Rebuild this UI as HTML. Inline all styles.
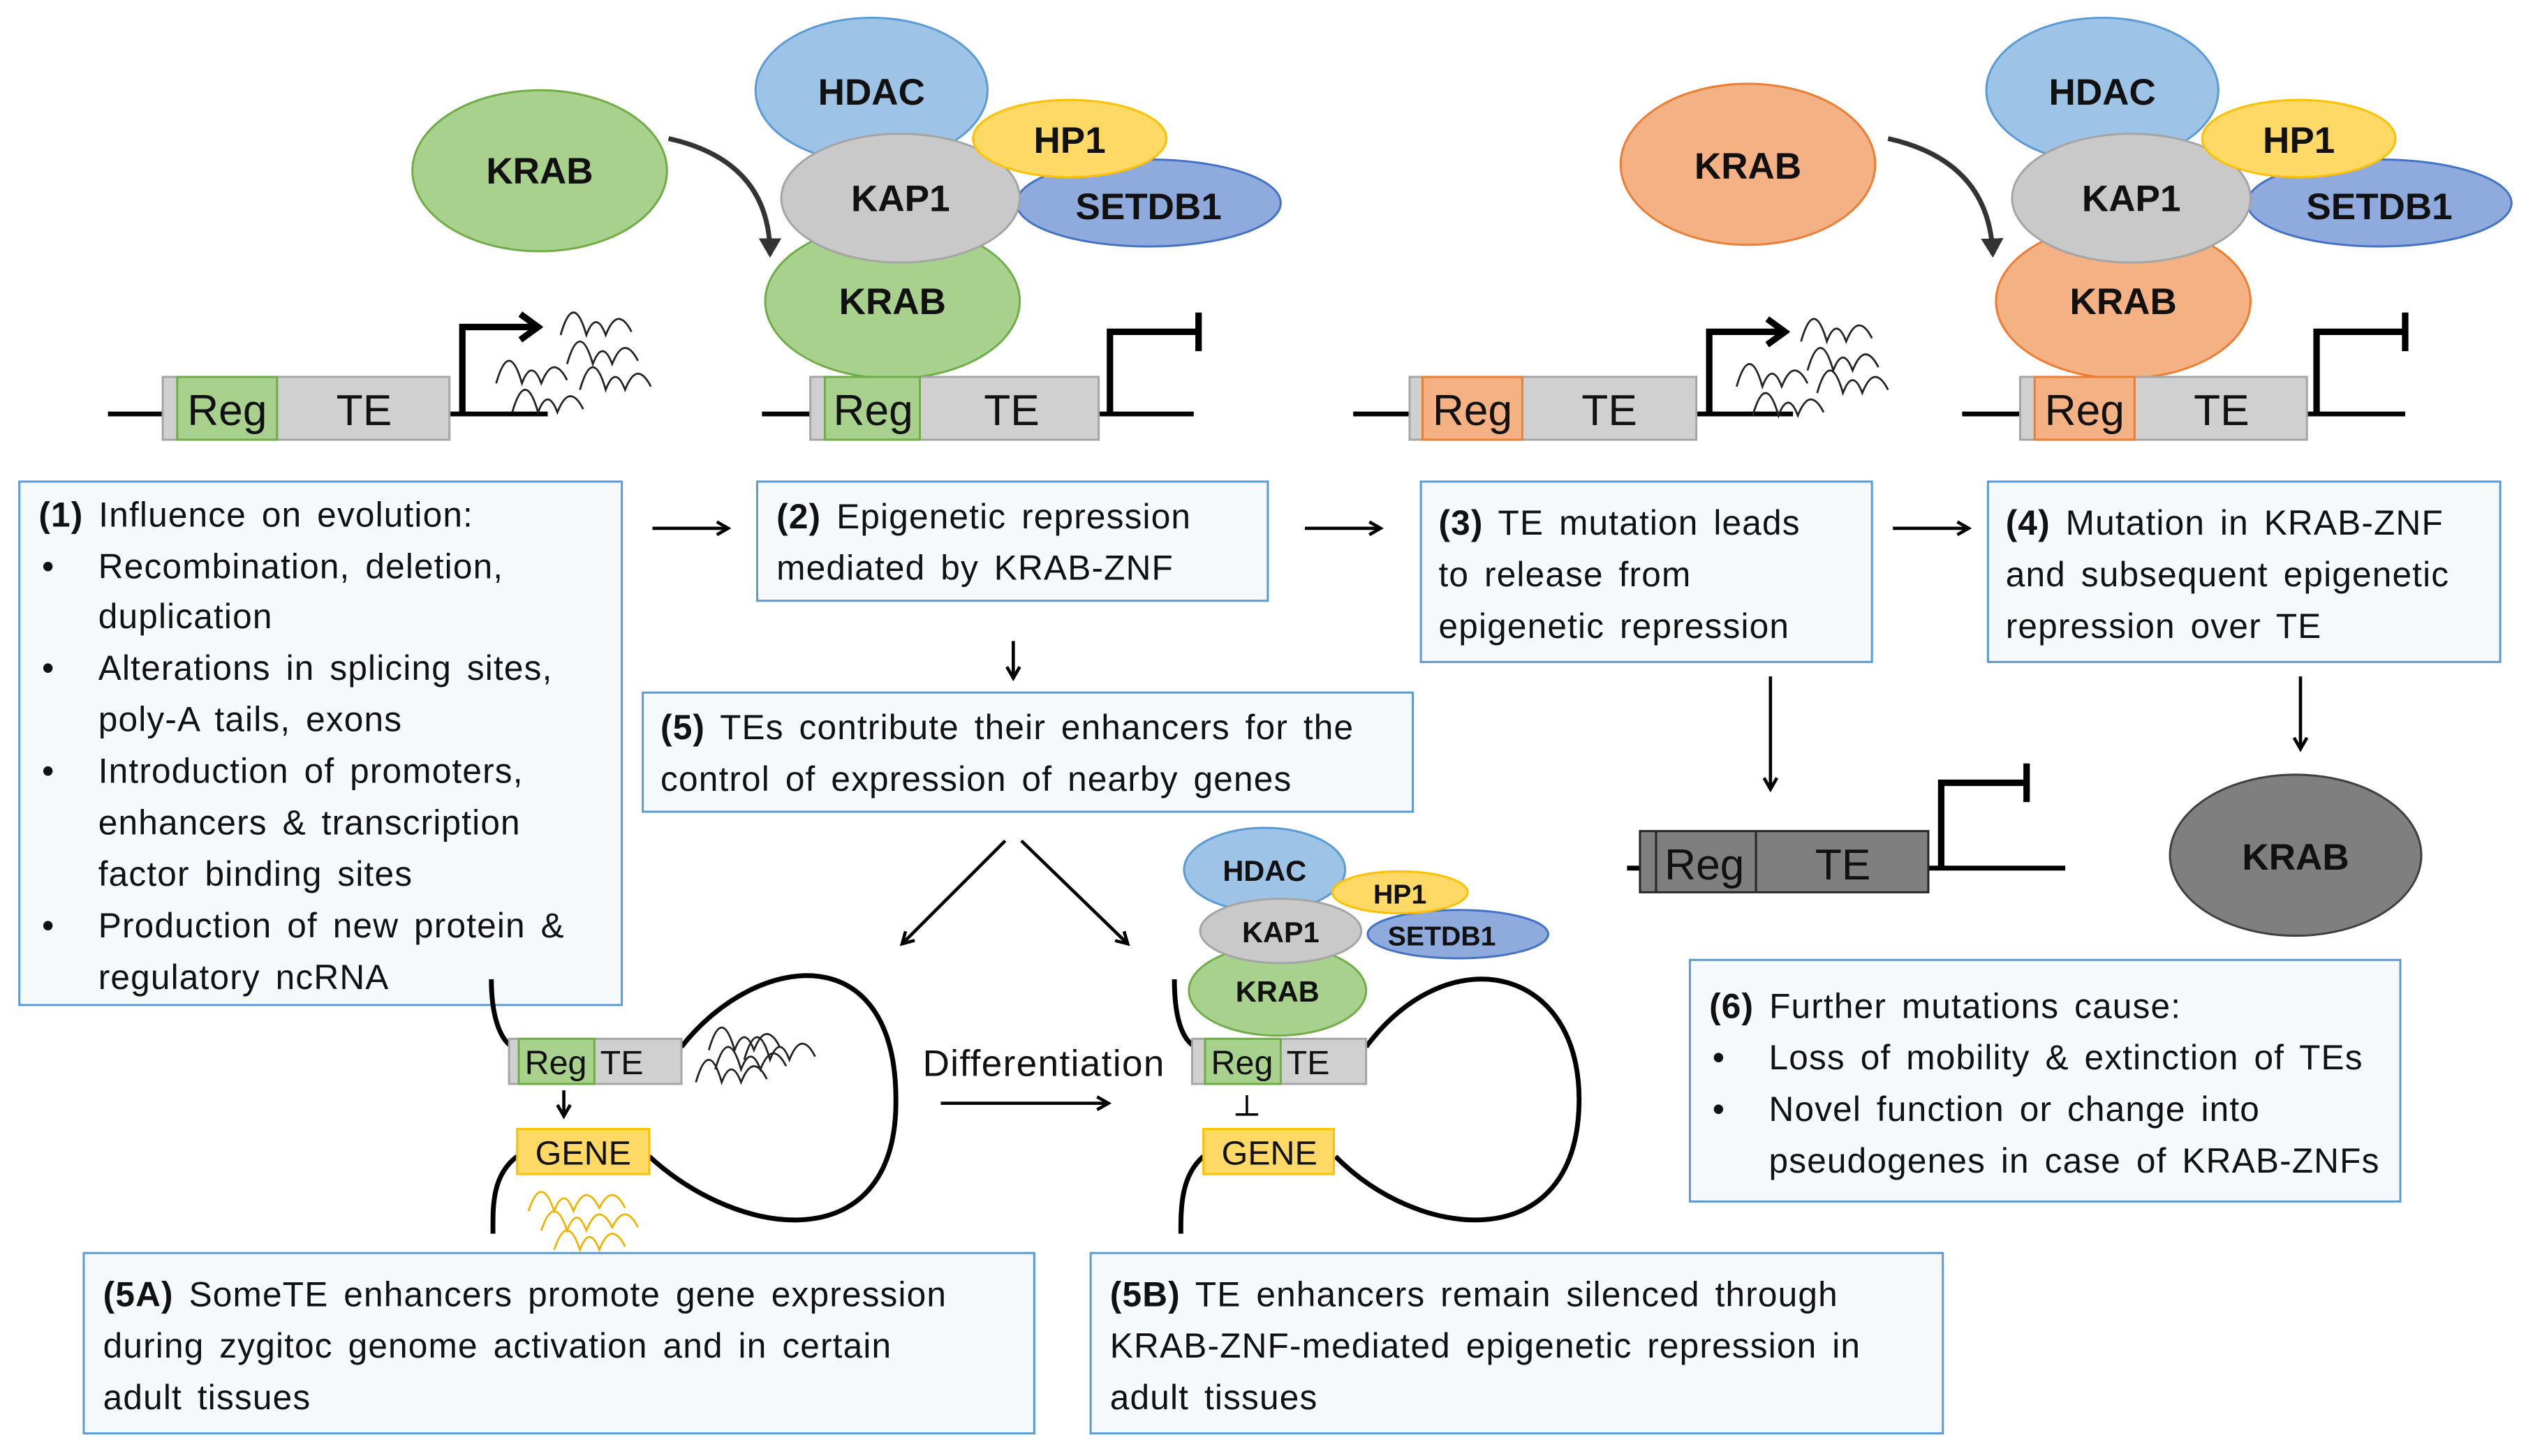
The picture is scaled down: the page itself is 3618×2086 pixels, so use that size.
<!DOCTYPE html>
<html><head><meta charset="utf-8"><style>
html,body{margin:0;padding:0;background:#fff;}
svg{display:block;}
text{font-family:"Liberation Sans",sans-serif;fill:#111;}
.bx{fill:#f5f9fc;stroke:#5b9bd5;stroke-width:1.3;}
.t{font-size:21.5px;letter-spacing:0.5px;word-spacing:3px;}
.b{font-weight:bold;}
.lb{font-size:23px;font-weight:bold;text-anchor:middle;}
.ln{stroke:#000;stroke-width:3;fill:none;}
.ar{stroke:#000;stroke-width:2;fill:none;}
.wv{stroke:#222;stroke-width:1.2;fill:none;}
</style></head><body>
<svg width="3618" height="2086" viewBox="0 0 1568 904" xmlns="http://www.w3.org/2000/svg">
<defs>
<marker id="ah" markerWidth="10" markerHeight="10" refX="8" refY="5" orient="auto" markerUnits="userSpaceOnUse"><path d="M1,1 L8,5 L1,9" fill="none" stroke="#000" stroke-width="2"/></marker>
<marker id="ah2" markerWidth="14" markerHeight="14" refX="10" refY="7" orient="auto" markerUnits="userSpaceOnUse"><path d="M0,0 L12,7 L0,14 z" fill="#333"/></marker>
<marker id="ah3" markerWidth="16" markerHeight="20" refX="12" refY="10" orient="auto" markerUnits="userSpaceOnUse"><path d="M2,2 L13,10 L2,18" fill="none" stroke="#000" stroke-width="4"/></marker>
<g id="wav">
<path class="wv" d="M0,30 q4,-14 8,-14 q4,0 8,14 q3,-8 6,-8 q3,0 6,8 q4,-10 8,-10 q4,0 8,8"/>
</g>
</defs>

<!-- ===== Panel 1 ===== -->
<path d="M415,86 Q478,100 478,158" fill="none" stroke="#333" stroke-width="3" marker-end="url(#ah2)"/>
<ellipse cx="335" cy="106" rx="79" ry="50" fill="#a9d18e" stroke="#70ad47" stroke-width="1.3"/>
<text class="lb" x="335" y="114">KRAB</text>
<line class="ln" x1="67" y1="257" x2="101" y2="257"/>
<line class="ln" x1="279" y1="257" x2="340" y2="257"/>
<rect x="101" y="234" width="178" height="39" fill="#d0d0d0" stroke="#a5a5a5" stroke-width="1.3"/>
<rect x="110" y="234" width="62" height="39" fill="#a9d18e" stroke="#70ad47" stroke-width="1.3"/>
<text x="141" y="264" font-size="27" text-anchor="middle">Reg</text>
<text x="226" y="264" font-size="27" text-anchor="middle">TE</text>
<path d="M287,257 V203 H333" stroke="#000" stroke-width="4" fill="none" marker-end="url(#ah3)"/>
<use href="#wav" x="348" y="178"/><use href="#wav" x="352" y="196"/><use href="#wav" x="308" y="208"/><use href="#wav" x="360" y="212"/><use href="#wav" x="318" y="226"/>

<!-- ===== Panel 2 complex ===== -->
<ellipse cx="713" cy="126" rx="82" ry="27" fill="#8faadc" stroke="#4472c4" stroke-width="1.3"/>
<ellipse cx="554" cy="187" rx="79" ry="48" fill="#a9d18e" stroke="#70ad47" stroke-width="1.3"/>
<ellipse cx="541" cy="56" rx="72" ry="45" fill="#9dc3e6" stroke="#5b9bd5" stroke-width="1.3"/>
<ellipse cx="559" cy="123" rx="74" ry="40" fill="#c9c9c9" stroke="#a5a5a5" stroke-width="1.3"/>
<ellipse cx="664" cy="86" rx="60" ry="24" fill="#ffd966" stroke="#ffc000" stroke-width="1.3"/>
<text class="lb" x="541" y="65">HDAC</text>
<text class="lb" x="664" y="95">HP1</text>
<text class="lb" x="559" y="131">KAP1</text>
<text class="lb" x="713" y="136">SETDB1</text>
<text class="lb" x="554" y="195">KRAB</text>
<line class="ln" x1="473" y1="257" x2="503" y2="257"/>
<line class="ln" x1="682" y1="257" x2="741" y2="257"/>
<rect x="503" y="234" width="179" height="39" fill="#d0d0d0" stroke="#a5a5a5" stroke-width="1.3"/>
<rect x="512" y="234" width="59" height="39" fill="#a9d18e" stroke="#70ad47" stroke-width="1.3"/>
<text x="542" y="264" font-size="27" text-anchor="middle">Reg</text>
<text x="628" y="264" font-size="27" text-anchor="middle">TE</text>
<path d="M689,257 V206 H744" stroke="#000" stroke-width="4" fill="none"/>
<line x1="744" y1="194" x2="744" y2="218" stroke="#000" stroke-width="4"/>

<!-- ===== Panel 3 ===== -->
<path d="M1172,86 Q1235,100 1237,158" fill="none" stroke="#333" stroke-width="3" marker-end="url(#ah2)"/>
<ellipse cx="1085" cy="102" rx="79" ry="50" fill="#f4b183" stroke="#ed7d31" stroke-width="1.3"/>
<text class="lb" x="1085" y="111">KRAB</text>
<line class="ln" x1="840" y1="257" x2="875" y2="257"/>
<line class="ln" x1="1053" y1="257" x2="1113" y2="257"/>
<rect x="875" y="234" width="178" height="39" fill="#d0d0d0" stroke="#a5a5a5" stroke-width="1.3"/>
<rect x="883" y="234" width="62" height="39" fill="#f4b183" stroke="#ed7d31" stroke-width="1.3"/>
<text x="914" y="264" font-size="27" text-anchor="middle">Reg</text>
<text x="999" y="264" font-size="27" text-anchor="middle">TE</text>
<path d="M1061,257 V206 H1107" stroke="#000" stroke-width="4" fill="none" marker-end="url(#ah3)"/>
<use href="#wav" x="1118" y="182"/><use href="#wav" x="1122" y="200"/><use href="#wav" x="1078" y="210"/><use href="#wav" x="1128" y="214"/><use href="#wav" x="1088" y="228"/>

<!-- ===== Panel 4 complex ===== -->
<ellipse cx="1477" cy="126" rx="82" ry="27" fill="#8faadc" stroke="#4472c4" stroke-width="1.3"/>
<ellipse cx="1318" cy="187" rx="79" ry="48" fill="#f4b183" stroke="#ed7d31" stroke-width="1.3"/>
<ellipse cx="1305" cy="56" rx="72" ry="45" fill="#9dc3e6" stroke="#5b9bd5" stroke-width="1.3"/>
<ellipse cx="1323" cy="123" rx="74" ry="40" fill="#c9c9c9" stroke="#a5a5a5" stroke-width="1.3"/>
<ellipse cx="1427" cy="86" rx="60" ry="24" fill="#ffd966" stroke="#ffc000" stroke-width="1.3"/>
<text class="lb" x="1305" y="65">HDAC</text>
<text class="lb" x="1427" y="95">HP1</text>
<text class="lb" x="1323" y="131">KAP1</text>
<text class="lb" x="1477" y="136">SETDB1</text>
<text class="lb" x="1318" y="195">KRAB</text>
<line class="ln" x1="1218" y1="257" x2="1254" y2="257"/>
<line class="ln" x1="1432" y1="257" x2="1493" y2="257"/>
<rect x="1254" y="234" width="178" height="39" fill="#d0d0d0" stroke="#a5a5a5" stroke-width="1.3"/>
<rect x="1263" y="234" width="62" height="39" fill="#f4b183" stroke="#ed7d31" stroke-width="1.3"/>
<text x="1294" y="264" font-size="27" text-anchor="middle">Reg</text>
<text x="1379" y="264" font-size="27" text-anchor="middle">TE</text>
<path d="M1438,257 V206 H1493" stroke="#000" stroke-width="4" fill="none"/>
<line x1="1493" y1="194" x2="1493" y2="218" stroke="#000" stroke-width="4"/>

<!-- ===== Boxes ===== -->
<rect class="bx" x="12" y="299" width="374" height="325"/>
<text class="t" x="24" y="327"><tspan class="b">(1)</tspan> Influence on evolution:</text>
<text class="t" x="26" y="359">•</text><text class="t" x="61" y="359">Recombination, deletion,</text>
<text class="t" x="61" y="390">duplication</text>
<text class="t" x="26" y="422">•</text><text class="t" x="61" y="422">Alterations in splicing sites,</text>
<text class="t" x="61" y="454">poly-A tails, exons</text>
<text class="t" x="26" y="486">•</text><text class="t" x="61" y="486">Introduction of promoters,</text>
<text class="t" x="61" y="518">enhancers &amp; transcription</text>
<text class="t" x="61" y="550">factor binding sites</text>
<text class="t" x="26" y="582">•</text><text class="t" x="61" y="582">Production of new protein &amp;</text>
<text class="t" x="61" y="614">regulatory ncRNA</text>

<rect class="bx" x="470" y="299" width="317" height="74"/>
<text class="t" x="482" y="328"><tspan class="b">(2)</tspan> Epigenetic repression</text>
<text class="t" x="482" y="360">mediated by KRAB-ZNF</text>

<rect class="bx" x="882" y="299" width="280" height="112"/>
<text class="t" x="893" y="332"><tspan class="b">(3)</tspan> TE mutation leads</text>
<text class="t" x="893" y="364">to release from</text>
<text class="t" x="893" y="396">epigenetic repression</text>

<rect class="bx" x="1234" y="299" width="318" height="112"/>
<text class="t" x="1245" y="332"><tspan class="b">(4)</tspan> Mutation in KRAB-ZNF</text>
<text class="t" x="1245" y="364">and subsequent epigenetic</text>
<text class="t" x="1245" y="396">repression over TE</text>

<rect class="bx" x="399" y="430" width="478" height="74"/>
<text class="t" x="410" y="459"><tspan class="b">(5)</tspan> TEs contribute their enhancers for the</text>
<text class="t" x="410" y="491">control of expression of nearby genes</text>

<rect class="bx" x="1049" y="596" width="441" height="150"/>
<text class="t" x="1061" y="632"><tspan class="b">(6)</tspan> Further mutations cause:</text>
<text class="t" x="1063" y="664">•</text><text class="t" x="1098" y="664">Loss of mobility &amp; extinction of TEs</text>
<text class="t" x="1063" y="696">•</text><text class="t" x="1098" y="696">Novel function or change into</text>
<text class="t" x="1098" y="728">pseudogenes in case of KRAB-ZNFs</text>

<rect class="bx" x="52" y="778" width="590" height="112"/>
<text class="t" x="64" y="811"><tspan class="b">(5A)</tspan> SomeTE enhancers promote gene expression</text>
<text class="t" x="64" y="843">during zygitoc genome activation and in certain</text>
<text class="t" x="64" y="875">adult tissues</text>

<rect class="bx" x="677" y="778" width="529" height="112"/>
<text class="t" x="689" y="811"><tspan class="b">(5B)</tspan> TE enhancers remain silenced through</text>
<text class="t" x="689" y="843">KRAB-ZNF-mediated epigenetic repression in</text>
<text class="t" x="689" y="875">adult tissues</text>

<!-- ===== Arrows ===== -->
<line class="ar" x1="405" y1="328" x2="452" y2="328" marker-end="url(#ah)"/>
<line class="ar" x1="810" y1="328" x2="857" y2="328" marker-end="url(#ah)"/>
<line class="ar" x1="1175" y1="328" x2="1222" y2="328" marker-end="url(#ah)"/>
<line class="ar" x1="629" y1="398" x2="629" y2="421" marker-end="url(#ah)"/>
<line class="ar" x1="1099" y1="420" x2="1099" y2="490" marker-end="url(#ah)"/>
<line class="ar" x1="1428" y1="420" x2="1428" y2="465" marker-end="url(#ah)"/>
<line class="ar" x1="624" y1="522" x2="560" y2="586" marker-end="url(#ah)"/>
<line class="ar" x1="634" y1="522" x2="700" y2="586" marker-end="url(#ah)"/>
<line class="ar" x1="584" y1="685" x2="688" y2="685" marker-end="url(#ah)"/>

<!-- ===== Bottom right repressed ===== -->
<line class="ln" x1="1010" y1="539" x2="1018" y2="539"/>
<line class="ln" x1="1197" y1="539" x2="1282" y2="539"/>
<rect x="1018" y="516" width="179" height="38" fill="#7f7f7f" stroke="#262626" stroke-width="1.3"/>
<line x1="1028" y1="516" x2="1028" y2="554" stroke="#262626" stroke-width="1.3"/>
<line x1="1090" y1="516" x2="1090" y2="554" stroke="#262626" stroke-width="1.3"/>
<text x="1058" y="546" font-size="27" text-anchor="middle">Reg</text>
<text x="1144" y="546" font-size="27" text-anchor="middle">TE</text>
<path d="M1205,539 V486 H1258" stroke="#000" stroke-width="4" fill="none"/>
<line x1="1258" y1="474" x2="1258" y2="498" stroke="#000" stroke-width="4"/>
<ellipse cx="1425" cy="531" rx="78" ry="50" fill="#7f7f7f" stroke="#404040" stroke-width="1.3"/>
<text class="lb" x="1425" y="540">KRAB</text>

<!-- ===== 5A loop ===== -->
<path class="ln" d="M305,608 C305,630 310,645 318,650"/>
<path class="ln" d="M423,650 C470,590 560,580 556,690 C552,780 460,770 403,718"/>
<path class="ln" d="M321,718 C305,730 306,750 306,766"/>
<rect x="316" y="645" width="107" height="28" fill="#d0d0d0" stroke="#a5a5a5" stroke-width="1.3"/>
<rect x="322" y="645" width="47" height="28" fill="#a9d18e" stroke="#70ad47" stroke-width="1.3"/>
<text x="345" y="667" font-size="21" text-anchor="middle">Reg</text>
<text x="386" y="667" font-size="21" text-anchor="middle">TE</text>
<line class="ar" x1="350" y1="677" x2="350" y2="693" marker-end="url(#ah)"/>
<rect x="321" y="701" width="82" height="28" fill="#ffd966" stroke="#ffc000" stroke-width="1.3"/>
<text x="362" y="723" font-size="21" text-anchor="middle">GENE</text>
<use href="#wav" x="440" y="622"/><use href="#wav" x="444" y="634"/><use href="#wav" x="432" y="642"/><use href="#wav" x="462" y="628"/>
<g stroke="#f0b400" stroke-width="1.2" fill="none">
<path d="M328,752 q4,-12 8,-12 q4,0 8,12 q3,-8 6,-8 q3,0 6,8 q4,-10 8,-10 q4,0 8,8 q4,-8 8,-8 q4,0 8,8"/>
<path d="M336,764 q4,-12 8,-12 q4,0 8,12 q3,-8 6,-8 q3,0 6,8 q4,-10 8,-10 q4,0 8,8 q4,-8 8,-8 q4,0 8,8"/>
<path d="M344,776 q4,-12 8,-12 q4,0 8,12 q3,-8 6,-8 q3,0 6,8 q4,-10 8,-10 q4,0 8,8"/></g>

<text x="648" y="668" font-size="23" text-anchor="middle" letter-spacing="0.6">Differentiation</text>

<!-- ===== 5B loop ===== -->
<path class="ln" d="M729,608 C729,630 733,645 742,650"/>
<path class="ln" d="M848,650 C900,580 985,600 980,690 C975,780 880,770 829,718"/>
<path class="ln" d="M747,718 C733,730 733,750 733,766"/>
<ellipse cx="905" cy="580" rx="56" ry="15" fill="#8faadc" stroke="#4472c4" stroke-width="1.3"/>
<ellipse cx="785" cy="540" rx="50" ry="26" fill="#9dc3e6" stroke="#5b9bd5" stroke-width="1.3"/>
<ellipse cx="793" cy="615" rx="55" ry="28" fill="#a9d18e" stroke="#70ad47" stroke-width="1.3"/>
<ellipse cx="795" cy="578" rx="50" ry="20" fill="#c9c9c9" stroke="#a5a5a5" stroke-width="1.3"/>
<ellipse cx="869" cy="554" rx="42" ry="13" fill="#ffd966" stroke="#ffc000" stroke-width="1.3"/>
<text x="785" y="547" font-size="18" font-weight="bold" text-anchor="middle">HDAC</text>
<text x="869" y="561" font-size="17" font-weight="bold" text-anchor="middle">HP1</text>
<text x="795" y="585" font-size="18" font-weight="bold" text-anchor="middle">KAP1</text>
<text x="895" y="587" font-size="17" font-weight="bold" text-anchor="middle">SETDB1</text>
<text x="793" y="622" font-size="18" font-weight="bold" text-anchor="middle">KRAB</text>
<rect x="740" y="645" width="108" height="28" fill="#d0d0d0" stroke="#a5a5a5" stroke-width="1.3"/>
<rect x="748" y="645" width="47" height="28" fill="#a9d18e" stroke="#70ad47" stroke-width="1.3"/>
<text x="771" y="667" font-size="21" text-anchor="middle">Reg</text>
<text x="812" y="667" font-size="21" text-anchor="middle">TE</text>
<line x1="774" y1="680" x2="774" y2="692" stroke="#000" stroke-width="1.5"/>
<line x1="767" y1="692" x2="781" y2="692" stroke="#000" stroke-width="1.5"/>
<rect x="747" y="701" width="81" height="28" fill="#ffd966" stroke="#ffc000" stroke-width="1.3"/>
<text x="788" y="723" font-size="21" text-anchor="middle">GENE</text>
</svg>
</body></html>
